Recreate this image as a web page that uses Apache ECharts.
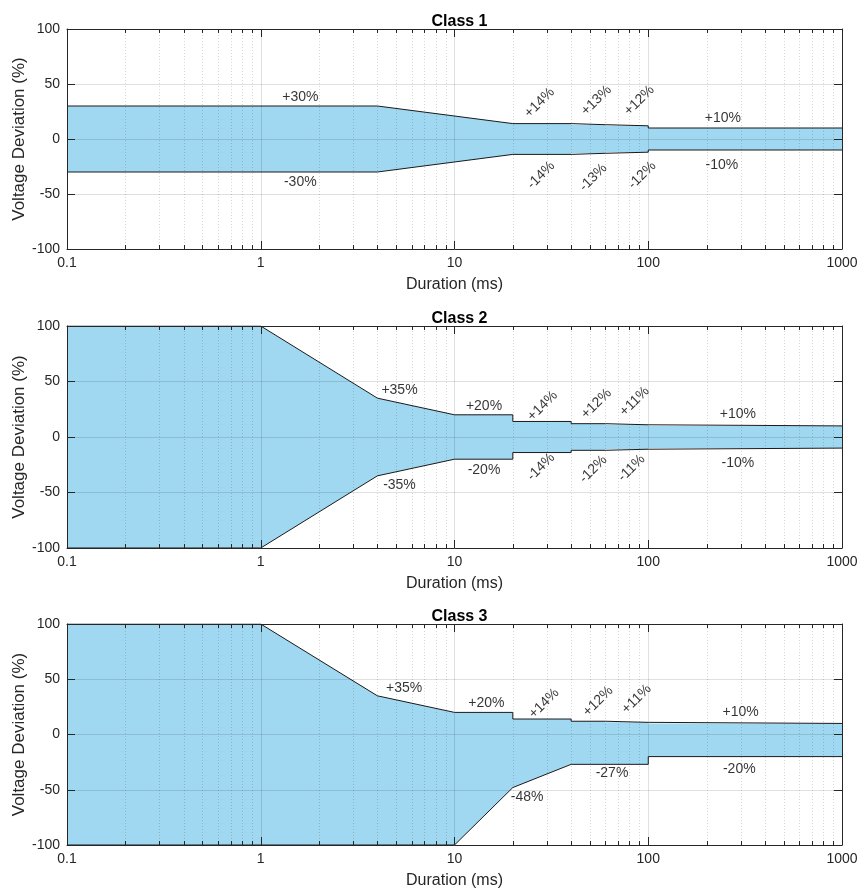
<!DOCTYPE html>
<html><head><meta charset="utf-8">
<script src="https://cdn.jsdelivr.net/npm/echarts@6/dist/echarts.min.js"></script>
<style>html,body{margin:0;padding:0;background:#fff}#c{width:858px;height:889px}</style>
</head><body><div id="c"></div>
<script>
// ---- data ----
const TITLES = ['Class 1', 'Class 2', 'Class 3'];
const X_NAME = 'Duration (ms)';
const Y_NAME = 'Voltage Deviation (%)';
const X_MIN = 0.1, X_MAX = 1000;
const Y_MIN = -100, Y_MAX = 100, Y_STEP = 50;
const MINOR_TICKS = [0.2,0.3,0.4,0.5,0.6,0.7,0.8,0.9, 2,3,4,5,6,7,8,9, 20,30,40,50,60,70,80,90, 200,300,400,500,600,700,800,900];

// Class 1 envelope
const C1_UP_X = [0.1, 4, 20, 40, 40, 60, 60, 100, 100, 1000];
const C1_UP_Y = [30, 30, 14, 14, 13, 13, 12, 12, 10, 10];
const C1_LO_X = [0.1, 4, 20, 40, 40, 60, 60, 100, 100, 1000];
const C1_LO_Y = [-30, -30, -14, -14, -13, -13, -12, -12, -10, -10];
// Class 2 envelope
const C2_UP_X = [0.1, 1, 4, 10, 20, 20, 40, 40, 60, 60, 100, 100, 1000];
const C2_UP_Y = [100, 100, 35, 20, 20, 14, 14, 12, 12, 11, 11, 10, 10];
const C2_LO_X = [0.1, 1, 4, 10, 20, 20, 40, 40, 60, 60, 100, 100, 1000];
const C2_LO_Y = [-100, -100, -35, -20, -20, -14, -14, -12, -12, -11, -11, -10, -10];
// Class 3 envelope
const C3_UP_X = [0.1, 1, 4, 10, 20, 20, 40, 40, 60, 60, 100, 100, 1000];
const C3_UP_Y = [100, 100, 35, 20, 20, 14, 14, 12, 12, 11, 11, 10, 10];
const C3_LO_X = [0.1, 10, 20, 40, 100, 100, 1000];
const C3_LO_Y = [-100, -100, -48, -27, -27, -20, -20];

// annotation labels: [text, x, y, rotation]
const C1_LABELS = [
  ['+30%', 1.6, 38, 0], ['-30%', 1.6, -39, 0],
  ['+14%', 27.5, 33, 45], ['-14%', 28, -33, 45],
  ['+13%', 54, 35, 45], ['-13%', 52, -35, 45],
  ['+12%', 90, 35, 45], ['-12%', 93, -33, 45],
  ['+10%', 243, 19, 0], ['-10%', 240, -24, 0]
];
const C2_LABELS = [
  ['+35%', 5.2, 42, 0], ['-35%', 5.2, -43, 0],
  ['+20%', 14.2, 28, 0], ['-20%', 14.2, -30, 0],
  ['+14%', 28.5, 28, 45], ['-14%', 28, -27, 45],
  ['+12%', 54, 30, 45], ['-12%', 52, -29, 45],
  ['+11%', 85, 32, 45], ['-11%', 82, -28, 45],
  ['+10%', 290, 21, 0], ['-10%', 290, -24, 0]
];
const C3_LABELS = [
  ['+35%', 5.5, 42, 0], ['+20%', 14.6, 28, 0],
  ['+14%', 29, 28, 45], ['+12%', 55, 30, 45], ['+11%', 87, 32, 45],
  ['+10%', 300, 20, 0],
  ['-48%', 23.7, -57, 0], ['-27%', 65, -35, 0], ['-20%', 295, -31, 0]
];

// ---- styles / layout ----
const FONT = 'Liberation Sans, Arial, sans-serif';
const TXT = '#262626';
const FILL = '#a0d8f1';
const EDGE = '#1a1a1a';
const GRID_LEFT = 67, GRID_W = 775;
const GRID_POS = [{top: 29, height: 220}, {top: 326, height: 222}, {top: 624, height: 221}];

const PANELS = [
  {ux: C1_UP_X, uy: C1_UP_Y, lx: C1_LO_X, ly: C1_LO_Y, labels: C1_LABELS},
  {ux: C2_UP_X, uy: C2_UP_Y, lx: C2_LO_X, ly: C2_LO_Y, labels: C2_LABELS},
  {ux: C3_UP_X, uy: C3_UP_Y, lx: C3_LO_X, ly: C3_LO_Y, labels: C3_LABELS}
];

const zip = (xs, ys) => xs.map((x, i) => [x, ys[i]]);
const fmtX = v => String(+(+v).toPrecision(6));

const grid = [], xAxis = [], yAxis = [], series = [], title = [];

PANELS.forEach((p, i) => {
  const g = GRID_POS[i];
  grid.push({left: GRID_LEFT, width: GRID_W, top: g.top, height: g.height,
    containLabel: false, outerBoundsMode: 'none'});
  title.push({
    text: TITLES[i], left: GRID_LEFT + GRID_W / 2, top: g.top - 20, textAlign: 'center',
    textStyle: {fontFamily: FONT, fontSize: 16, fontWeight: 'bold', color: '#000'}
  });
  // bottom x axis (labels, major grid)
  xAxis.push({
    type: 'log', logBase: 10, gridIndex: i, position: 'bottom', min: X_MIN, max: X_MAX, z: 10,
    name: X_NAME, nameLocation: 'middle', nameGap: 28, nameMoveOverlap: false,
    nameTextStyle: {fontFamily: FONT, fontSize: 16, color: TXT},
    axisLine: {show: true, onZero: false, lineStyle: {color: TXT, width: 1}},
    axisTick: {show: true, inside: true, length: 8, lineStyle: {color: TXT}},
    axisLabel: {show: true, fontFamily: FONT, fontSize: 14, color: TXT, margin: 7, formatter: fmtX},
    splitLine: {show: true, lineStyle: {color: 'rgba(0,0,0,0.12)', width: 1}},
    minorTick: {show: false}, minorSplitLine: {show: false}
  });
  // top x axis (box + ticks)
  xAxis.push({
    type: 'log', logBase: 10, gridIndex: i, position: 'top', min: X_MIN, max: X_MAX, z: 10,
    axisLine: {show: true, onZero: false, lineStyle: {color: TXT, width: 1}},
    axisTick: {show: true, inside: true, length: 8, lineStyle: {color: TXT}},
    axisLabel: {show: false}, splitLine: {show: false}
  });
  yAxis.push({
    type: 'value', gridIndex: i, position: 'left', min: Y_MIN, max: Y_MAX, interval: Y_STEP, z: 10,
    name: Y_NAME, nameLocation: 'middle', nameGap: 39, nameRotate: 90, nameMoveOverlap: false,
    nameTextStyle: {fontFamily: FONT, fontSize: 17, color: TXT},
    axisLine: {show: true, onZero: false, lineStyle: {color: TXT, width: 1}},
    axisTick: {show: true, inside: true, length: 8, lineStyle: {color: TXT}},
    axisLabel: {show: true, fontFamily: FONT, fontSize: 14, color: TXT, margin: 7},
    splitLine: {show: true, lineStyle: {color: 'rgba(0,0,0,0.12)', width: 1}}
  });
  yAxis.push({
    type: 'value', gridIndex: i, position: 'right', min: Y_MIN, max: Y_MAX, interval: Y_STEP, z: 10,
    axisLine: {show: true, onZero: false, lineStyle: {color: TXT, width: 1}},
    axisTick: {show: true, inside: true, length: 8, lineStyle: {color: TXT}},
    axisLabel: {show: false}, splitLine: {show: false}
  });
  const xi = 2 * i, yi = 2 * i;
  // filled envelope
  series.push({
    type: 'custom', xAxisIndex: xi, yAxisIndex: yi, z: 2, silent: true,
    data: [[1, 0]],
    renderItem: (params, api) => {
      const pts = [];
      for (let k = 0; k < p.ux.length; k++) pts.push(api.coord([p.ux[k], p.uy[k]]));
      for (let k = p.lx.length - 1; k >= 0; k--) pts.push(api.coord([p.lx[k], p.ly[k]]));
      return {type: 'polygon', shape: {points: pts}, style: {fill: FILL, stroke: null}};
    }
  });
  // minor gridlines & minor ticks
  series.push({
    type: 'custom', xAxisIndex: xi, yAxisIndex: yi, z: 12, silent: true,
    data: MINOR_TICKS.map(v => [v, 0]),
    renderItem: (params, api) => {
      const v = api.value(0);
      const b = api.coord([v, Y_MIN]), t = api.coord([v, Y_MAX]);
      const x = Math.round(b[0]) + 0.5;
      return {type: 'group', children: [
        {type: 'line', shape: {x1: x, y1: b[1], x2: x, y2: t[1]}, style: {stroke: 'rgba(0,0,0,0.16)', lineWidth: 1, lineDash: [1, 2]}},
        {type: 'line', shape: {x1: x, y1: b[1], x2: x, y2: b[1] - 4}, style: {stroke: TXT, lineWidth: 1}},
        {type: 'line', shape: {x1: x, y1: t[1], x2: x, y2: t[1] + 4}, style: {stroke: TXT, lineWidth: 1}}
      ]};
    }
  });
  // envelope edges
  [[p.ux, p.uy], [p.lx, p.ly]].forEach(([xs, ys]) => {
    series.push({
      type: 'line', xAxisIndex: xi, yAxisIndex: yi, z: 3, silent: true,
      data: zip(xs, ys), showSymbol: false, symbol: 'none',
      lineStyle: {color: EDGE, width: 1}, animation: false
    });
  });
  // annotations
  series.push({
    type: 'scatter', xAxisIndex: xi, yAxisIndex: yi, z: 20, silent: true, symbolSize: 0,
    data: p.labels.map(l => ({
      value: [l[1], l[2]],
      label: {show: true, position: 'inside', formatter: l[0], rotate: l[3],
        fontFamily: FONT, fontSize: 14, color: '#000', align: 'center', verticalAlign: 'middle'}
    }))
  });
});

const chart = echarts.init(document.getElementById('c'), null, {renderer: 'canvas'});
chart.setOption({animation: false, backgroundColor: '#fff', title, grid, xAxis, yAxis, series});
</script>
</body></html>
